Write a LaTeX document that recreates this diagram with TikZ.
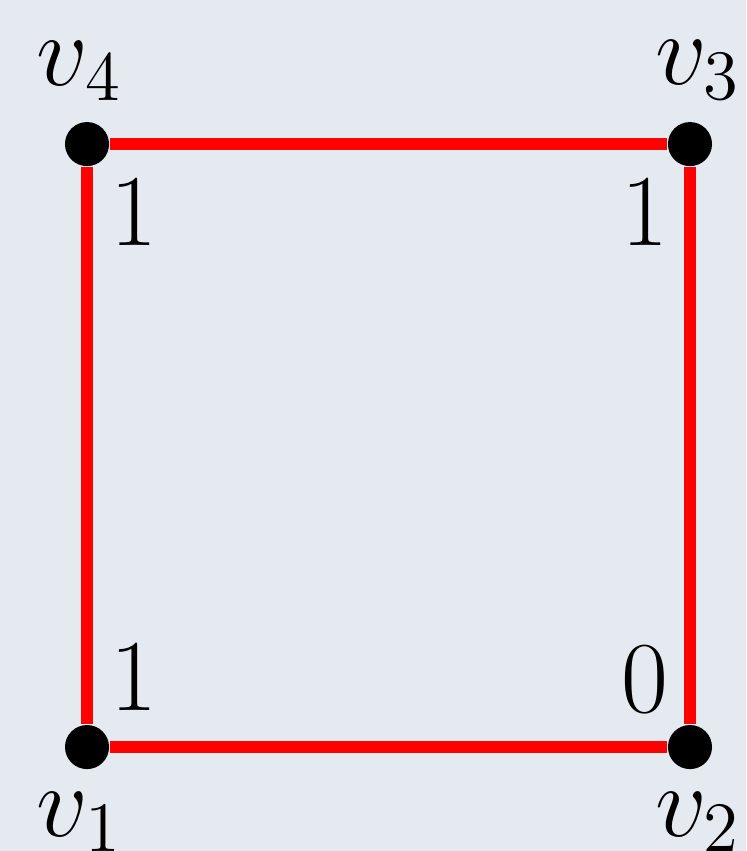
\documentclass[tikz,border=0pt]{standalone}
\usepackage{amsmath,amssymb}
\usepackage{tikz}
\usetikzlibrary{positioning}
\usepackage{xcolor}
\definecolor{panelbg}{RGB}{229,233,240}

\begin{document}
\begin{tikzpicture}[vtx/.style={circle,fill=black,inner sep=0pt,minimum size=3.15mm},
  edge/.style={red,line width=2.6pt},
  lbl/.style={inner sep=0pt,font=\huge}]
\fill[panelbg] (-0.622,-0.743) rectangle (4.711,5.340);
\useasboundingbox (-0.622,-0.743) rectangle (4.711,5.340);
\node[vtx] (v1) at (0,0) {};
\node[vtx] (v2) at (4.31,0) {};
\node[vtx] (v3) at (4.31,4.31) {};
\node[vtx] (v4) at (0,4.31) {};
\draw[edge] (v1) -- (v2);
\draw[edge] (v2) -- (v3);
\draw[edge] (v3) -- (v4);
\draw[edge] (v4) -- (v1);
% vertex names
\node[lbl,anchor=base west] (l1) at (-0.365,-0.636) {$v_1$};
\node[lbl,anchor=base east] (l2) at (4.682,-0.636) {$v_2$};
\node[lbl,anchor=base east] (l3) at (4.682,4.736) {$v_3$};
\node[lbl,anchor=base west] (l4) at (-0.365,4.732) {$v_4$};
% values
\node[lbl,anchor=base] (n1) at (0.332,0.264) {$1$};
\node[lbl,anchor=base] (n2) at (3.985,0.25) {$0$};
\node[lbl,anchor=base] (n3) at (3.988,3.588) {$1$};
\node[lbl,anchor=base] (n4) at (0.332,3.588) {$1$};
\end{tikzpicture}
\end{document}
